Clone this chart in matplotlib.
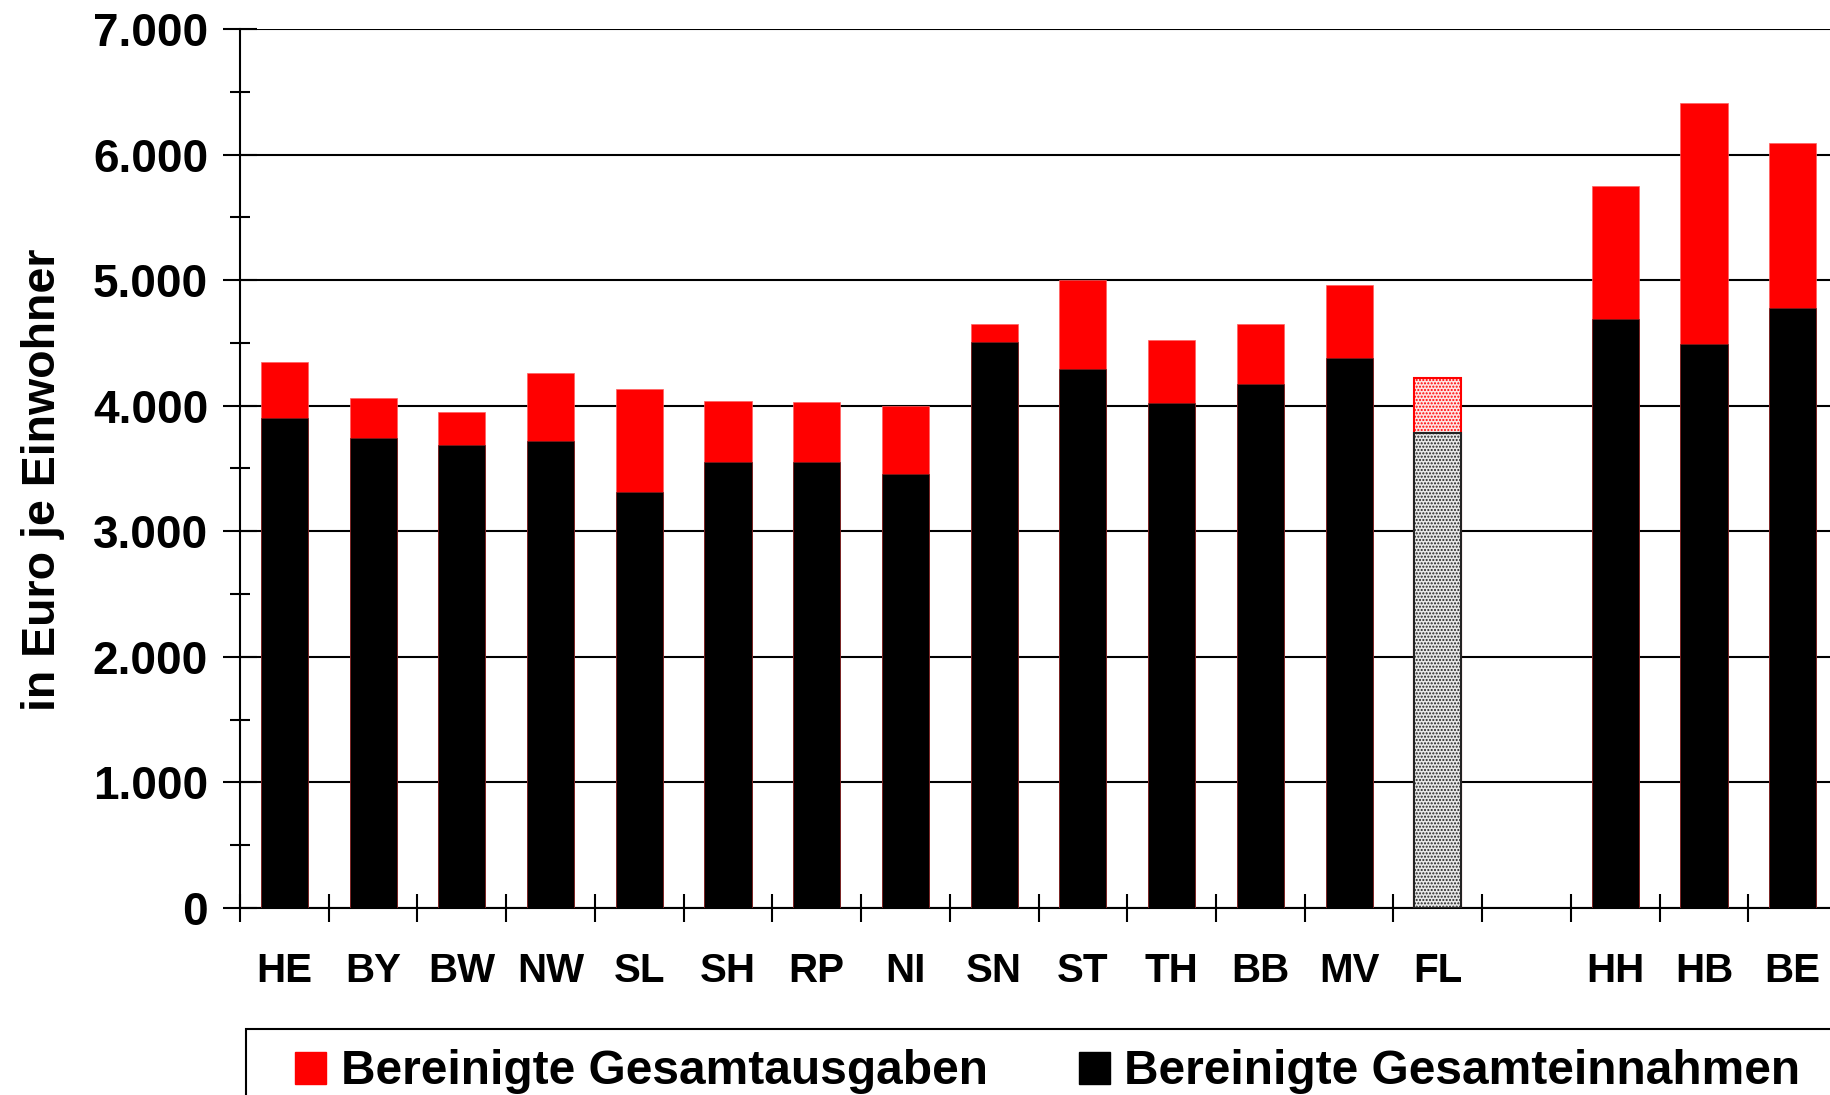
import numpy as np
import matplotlib
matplotlib.use("Agg")
import matplotlib.pyplot as plt
from matplotlib.patches import Rectangle, Patch

plt.rcParams['font.family'] = ['Liberation Sans', 'DejaVu Sans']
plt.rcParams['font.weight'] = 'bold'

laender = ["HE", "BY", "BW", "NW", "SL", "SH", "RP", "NI", "SN", "ST",
           "TH", "BB", "MV", "FL", "HH", "HB", "BE"]
ausgaben = [4350, 4060, 3950, 4260, 4130, 4040, 4030, 4000, 4650, 5000,
            4520, 4650, 4960, 4220, 5750, 6410, 6090]
einnahmen = [3900, 3740, 3690, 3720, 3310, 3550, 3550, 3460, 4510, 4290,
             4020, 4170, 4380, 3780, 4690, 4490, 4780]

# leere Position zwischen Flaechenlaendern und Stadtstaaten
x = np.array([i if i < 14 else i + 1 for i in range(len(laender))])

fig = plt.figure(figsize=(18.3, 10.95), dpi=100)
ax = fig.add_axes([240 / 1830, 1 - 908 / 1095, 1 - 240 / 1830, (908 - 29) / 1095])

w = 0.53
for i, xi in enumerate(x):
    if laender[i] == "FL":
        ax.bar(xi, ausgaben[i], w, facecolor='#ffe4e4', edgecolor='red',
               hatch='.....', linewidth=1.5, zorder=3)
        ax.bar(xi, einnahmen[i], w, facecolor='#e8e8e8', edgecolor='#222222',
               hatch='.....', linewidth=1.5, zorder=4)
    else:
        ax.bar(xi, ausgaben[i], w, color='#ff0000', edgecolor='#ff6060',
               linewidth=0.5, zorder=3)
        ax.bar(xi, einnahmen[i], w, color='black', edgecolor='#7a2020',
               linewidth=0.5, zorder=4)

ax.set_xlim(-0.5, 17.42)
ax.set_ylim(0, 7000)
ax.set_yticks(np.arange(0, 7001, 1000))
ax.set_yticklabels(['0', '1.000', '2.000', '3.000', '4.000', '5.000', '6.000', '7.000'])
ax.set_yticks(np.arange(500, 7000, 1000), minor=True)
ax.yaxis.grid(True, which='major', color='black', linewidth=1.5, zorder=1)
ax.set_axisbelow(True)

ax.set_xticks(np.arange(-0.5, 17.5, 1.0))
ax.set_xticklabels([])
ax.set_xticks(x, minor=True)
ax.set_xticklabels(laender, minor=True, fontsize=29, fontweight='bold')
ax.tick_params(axis='x', which='minor', length=0, pad=32)
ax.tick_params(axis='x', which='major', direction='inout', length=20, width=1.5)
ax.tick_params(axis='y', which='major', direction='inout', length=24, width=1.5,
               labelsize=33, pad=11)
ax.tick_params(axis='y', which='minor', direction='inout', length=14, width=1.5)

for s in ['top', 'right']:
    ax.spines[s].set_visible(False)
for s in ['left', 'bottom']:
    ax.spines[s].set_linewidth(1.5)

ax.set_ylabel('in Euro je Einwohner', fontsize=33.5, fontweight='bold')
ax.yaxis.set_label_coords(-0.110, 0.487)

# Legende (Rahmen ragt ueber den Bildrand hinaus)
fig.patches.append(Rectangle((246 / 1830, -0.1), 1.0, 1 - 1029 / 1095 + 0.1,
                             transform=fig.transFigure, facecolor='white',
                             edgecolor='black', linewidth=1.5))
handles = [Patch(color='#ff0000'), Patch(color='black')]
fig.legend(handles, ['Bereinigte Gesamtausgaben', 'Bereinigte Gesamteinnahmen'],
           loc='center left', bbox_to_anchor=(295 / 1830, 1 - 1072 / 1095),
           ncol=2, frameon=False, handlelength=0.65, handleheight=0.65,
           handletextpad=0.3, columnspacing=1.9, borderpad=0, borderaxespad=0,
           prop={'weight': 'bold', 'size': 34.5})

fig.savefig('out.png', dpi=100)
